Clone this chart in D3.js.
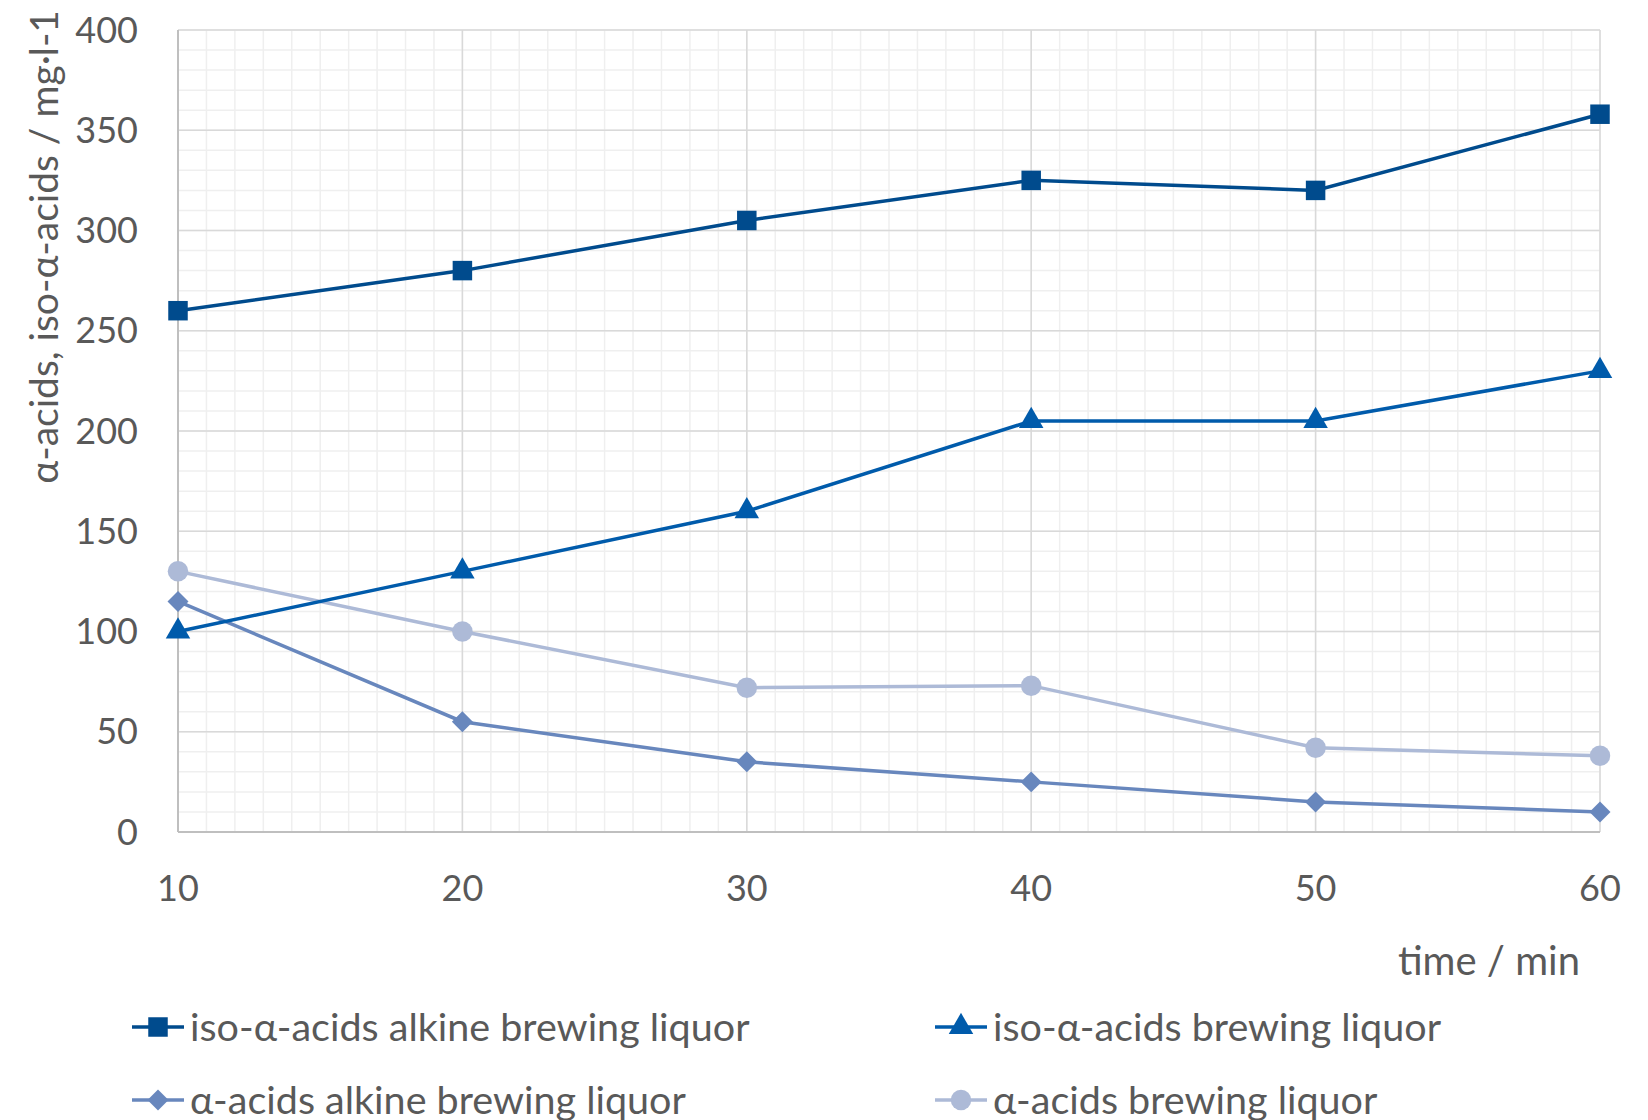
<!DOCTYPE html>
<html>
<head>
<meta charset="utf-8">
<script src="https://cdn.jsdelivr.net/npm/d3@7"></script>
<style>
  body { margin: 0; background: #fff; }
  text { font-family: Lato, "Open Sans", sans-serif; fill: #595959; }
</style>
</head>
<body>
<div id="chart"></div>
<script>
const times = [10, 20, 30, 40, 50, 60];
const isoAlkine = [260, 280, 305, 325, 320, 358];
const isoBrewing = [100, 130, 160, 205, 205, 230];
const alphaAlkine = [115, 55, 35, 25, 15, 10];
const alphaBrewing = [130, 100, 72, 73, 42, 38];
const yTicks = [0, 50, 100, 150, 200, 250, 300, 350, 400];
const xTicks = [10, 20, 30, 40, 50, 60];

const series = [
    { name: 'iso-α-acids alkine brewing liquor', values: isoAlkine, color: '#004b8d', symbol: d3.symbolSquare, size: 380, rot: 0 },
    { name: 'iso-α-acids brewing liquor', values: isoBrewing, color: '#005bab', symbol: d3.symbolTriangle, size: 260, rot: 0 },
    { name: 'α-acids alkine brewing liquor', values: alphaAlkine, color: '#6887bd', symbol: d3.symbolSquare, size: 220, rot: 45 },
    { name: 'α-acids brewing liquor', values: alphaBrewing, color: '#adbad7', symbol: d3.symbolCircle, size: 330, rot: 0 }
];

const W = 1648, H = 1120;
const plot = { left: 178, right: 1600, top: 30, bottom: 832 };

const svg = d3.select('#chart').append('svg')
    .attr('width', W).attr('height', H);

const x = d3.scaleLinear().domain([10, 60]).range([plot.left, plot.right]);
const y = d3.scaleLinear().domain([0, 400]).range([plot.bottom, plot.top]);

// minor grid
const grid = svg.append('g');
grid.selectAll('.vminor').data(d3.range(10, 61, 1))
    .enter().append('line')
    .attr('x1', d => x(d)).attr('x2', d => x(d))
    .attr('y1', plot.top).attr('y2', plot.bottom)
    .style('stroke', '#efefef').style('stroke-width', 1.5);
grid.selectAll('.hminor').data(d3.range(0, 401, 10))
    .enter().append('line')
    .attr('x1', plot.left).attr('x2', plot.right)
    .attr('y1', d => y(d)).attr('y2', d => y(d))
    .style('stroke', '#efefef').style('stroke-width', 1.5);
// major grid
grid.selectAll('.vmajor').data(xTicks)
    .enter().append('line')
    .attr('x1', d => x(d)).attr('x2', d => x(d))
    .attr('y1', plot.top).attr('y2', plot.bottom)
    .style('stroke', '#d9d9d9').style('stroke-width', 1.5);
grid.selectAll('.hmajor').data(yTicks)
    .enter().append('line')
    .attr('x1', plot.left).attr('x2', plot.right)
    .attr('y1', d => y(d)).attr('y2', d => y(d))
    .style('stroke', '#d9d9d9').style('stroke-width', 1.5);

// axis lines
svg.append('line')
    .attr('x1', plot.left).attr('x2', plot.right)
    .attr('y1', plot.bottom).attr('y2', plot.bottom)
    .style('stroke', '#bfbfbf').style('stroke-width', 2);
svg.append('line')
    .attr('x1', plot.left).attr('x2', plot.left)
    .attr('y1', plot.top).attr('y2', plot.bottom)
    .style('stroke', '#bfbfbf').style('stroke-width', 2);

// tick labels
svg.selectAll('.ylab').data(yTicks)
    .enter().append('text')
    .attr('x', 138).attr('y', d => y(d))
    .attr('dy', '0.35em')
    .attr('text-anchor', 'end')
    .style('font-size', '36px')
    .text(d => d);
svg.selectAll('.xlab').data(xTicks)
    .enter().append('text')
    .attr('x', d => x(d)).attr('y', 888)
    .attr('dy', '0.35em')
    .attr('text-anchor', 'middle')
    .style('font-size', '36px')
    .text(d => d);

svg.append('text')
    .attr('x', 1580).attr('y', 975)
    .attr('text-anchor', 'end')
    .style('font-size', '40px')
    .text('time / min');

svg.append('text')
    .attr('transform', 'translate(58,10) rotate(-90)')
    .attr('text-anchor', 'end')
    .style('font-size', '39px')
    .text('α-acids, iso-α-acids / mg·l-1');

// series
const line = d3.line().x((d, i) => x(times[i])).y(d => y(d));
series.slice().reverse().forEach(s => {
    const g = svg.append('g');
    g.append('path').datum(s.values)
        .attr('d', line)
        .style('fill', 'none')
        .style('stroke', s.color)
        .style('stroke-width', 3.5);
    g.selectAll('.pt').data(s.values)
        .enter().append('path')
        .attr('transform', (d, i) => `translate(${x(times[i])},${y(d)}) rotate(${s.rot})`)
        .attr('d', d3.symbol().type(s.symbol).size(s.size))
        .style('fill', s.color);
});

// legend
const legendPos = [
    { lx: 132, ly: 1027 },
    { lx: 935, ly: 1027 },
    { lx: 132, ly: 1100 },
    { lx: 935, ly: 1100 }
];
series.forEach((s, i) => {
    const p = legendPos[i];
    const g = svg.append('g').attr('transform', `translate(${p.lx},${p.ly})`);
    g.append('line')
        .attr('x1', 0).attr('x2', 52)
        .style('stroke', s.color).style('stroke-width', 3.5);
    g.append('path')
        .attr('transform', `translate(26,0) rotate(${s.rot})`)
        .attr('d', d3.symbol().type(s.symbol).size(s.size))
        .style('fill', s.color);
    g.append('text')
        .attr('x', 58).attr('dy', '0.35em')
        .style('font-size', '39.5px')
        .text(s.name);
});
</script>
</body>
</html>
